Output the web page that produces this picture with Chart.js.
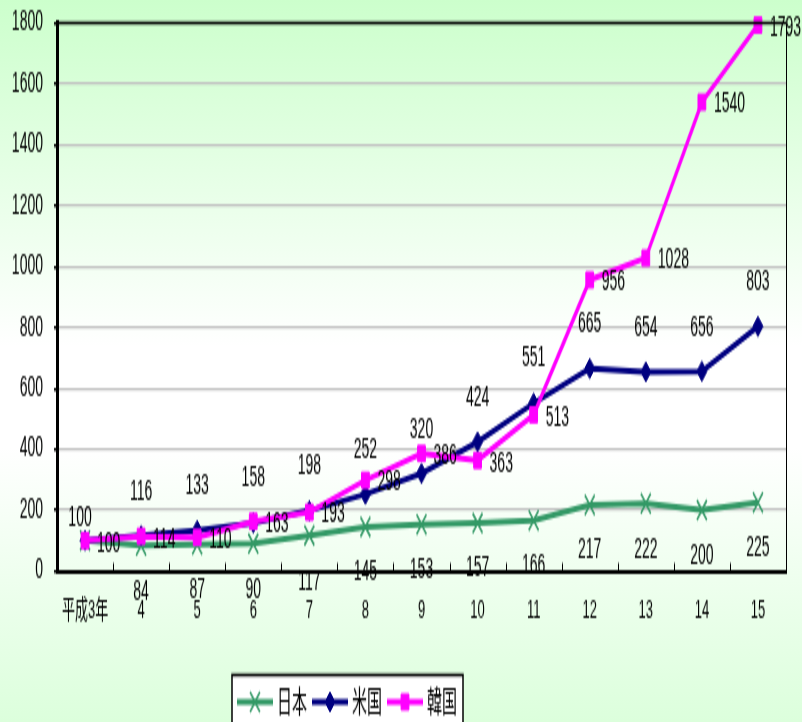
<!DOCTYPE html>
<html lang="ja">
<head>
<meta charset="utf-8">
<title>日本・米国・韓国の推移</title>
<script src="https://cdn.jsdelivr.net/npm/chart.js@4/dist/chart.umd.min.js"></script>
<style>
  html, body { margin: 0; padding: 0; }
  body {
    width: 802px; height: 722px; overflow: hidden;
    background: linear-gradient(to bottom, #ccffcc 0%, #ffffff 48%, #ffffff 62%, #dcffdc 100%);
  }
  #chart { display: block; }
</style>
</head>
<body>
<!-- drawn at half height, stretched to full height by the inline size -->
<canvas id="chart" width="802" height="361" style="width:802px;height:722px"></canvas>
<script>
// x-axis categories (fiscal years)
const years = ['平成3年', '4', '5', '6', '7', '8', '9', '10', '11', '12', '13', '14', '15'];

// index values, 平成3年 = 100
const japan = [100, 84, 87, 90, 117, 145, 153, 157, 166, 217, 222, 200, 225];
const usa   = [100, 116, 133, 158, 198, 252, 320, 424, 551, 665, 654, 656, 803];
const korea = [100, 114, 110, 163, 193, 298, 386, 363, 513, 956, 1028, 1540, 1793];

const seriesNames = ['日本', '米国', '韓国'];
const yTicks = { min: 0, max: 1800, step: 200 };

const FONT = "'Liberation Sans', Arial, 'Noto Sans CJK JP', sans-serif";
const colors = ['#339966', '#000080', '#ff00ff'];

// where each series puts its value labels: below / above / right of the point
const labelPlacement = [
  { dx: 0, dy: 23, align: 'center' },
  { dx: 0, dy: -22, align: 'center' },
  { dx: 12, dy: 1.5, align: 'left' }
];

const valueLabels = {
  id: 'valueLabels',
  afterDatasetsDraw(chart) {
    const ctx = chart.ctx;
    ctx.save();
    ctx.font = '14px ' + FONT;
    ctx.fillStyle = '#000';
    ctx.textBaseline = 'middle';
    chart.data.datasets.forEach((ds, di) => {
      const meta = chart.getDatasetMeta(di);
      const p = labelPlacement[di];
      meta.data.forEach((pt, i) => {
        let dx = p.dx, dy = p.dy;
        if (i === 0 && di === 0) return;          // 日本 first label sits under the others
        if (i === 0 && di === 1) { dx = -5; dy = -11; }
        ctx.textAlign = p.align;
        ctx.fillText(String(ds.data[i]), pt.x + dx, pt.y + dy);
      });
    });
    ctx.restore();
  }
};

const frameAndLegend = {
  id: 'frameAndLegend',
  afterDraw(chart) {
    const ctx = chart.ctx;
    const a = chart.chartArea;
    ctx.save();

    // category separators rising from the x axis
    ctx.strokeStyle = '#000';
    ctx.lineWidth = 1;
    const w = (a.right - a.left) / years.length;
    for (let i = 1; i < years.length; i++) {
      const x = Math.round(a.left + i * w) + 0.5;
      ctx.beginPath();
      ctx.moveTo(x, a.bottom);
      ctx.lineTo(x, a.bottom - 4);
      ctx.stroke();
    }

    // top edge and thin right edge of the plot
    ctx.lineWidth = 1.5;
    ctx.beginPath();
    ctx.moveTo(a.left, a.top);
    ctx.lineTo(a.right, a.top);
    ctx.stroke();
    ctx.lineWidth = 1;
    ctx.beginPath();
    ctx.moveTo(a.right + 0.5, a.top);
    ctx.lineTo(a.right + 0.5, a.bottom);
    ctx.stroke();

    // legend box
    const bx = 232, by = 337.5, bw = 231, bh = 40;
    ctx.fillStyle = '#fff';
    ctx.fillRect(bx, by, bw, bh);
    ctx.lineWidth = 1.5;
    ctx.strokeStyle = '#000';
    ctx.strokeRect(bx, by, bw, bh);

    const ly = 351;
    chart.data.datasets.forEach((ds, i) => {
      const x0 = 237 + i * 75;
      ctx.strokeStyle = ds.borderColor;
      ctx.lineWidth = 3;
      ctx.beginPath();
      ctx.moveTo(x0, ly);
      ctx.lineTo(x0 + 36, ly);
      ctx.stroke();
      ctx.fillStyle = ds.pointBackgroundColor;
      ctx.strokeStyle = ds.pointBorderColor;
      ctx.lineWidth = ds.pointBorderWidth;
      Chart.helpers.drawPoint(ctx, {
        pointStyle: ds.pointStyle,
        radius: ds.pointRadius,
        borderWidth: ds.pointBorderWidth,
        rotation: 0
      }, x0 + 18, ly);
      ctx.fillStyle = '#000';
      ctx.font = '15px ' + FONT;
      ctx.textAlign = 'left';
      ctx.textBaseline = 'middle';
      ctx.fillText(ds.label, x0 + 40, ly + 1);
    });
    ctx.restore();
  }
};

new Chart(document.getElementById('chart'), {
  type: 'line',
  data: {
    labels: years,
    datasets: [
      {
        label: seriesNames[0], data: japan, order: 2,
        borderColor: colors[0], borderWidth: 3,
        pointStyle: 'crossRot', pointRadius: 7, pointBorderWidth: 1.5,
        pointBorderColor: colors[0], pointBackgroundColor: colors[0]
      },
      {
        label: seriesNames[1], data: usa, order: 1,
        borderColor: colors[1], borderWidth: 3,
        pointStyle: 'rectRot', pointRadius: 5, pointBorderWidth: 1,
        pointBorderColor: colors[1], pointBackgroundColor: colors[1]
      },
      {
        label: seriesNames[2], data: korea, order: 0,
        borderColor: colors[2], borderWidth: 3,
        pointStyle: 'rect', pointRadius: 5.5, pointBorderWidth: 1,
        pointBorderColor: colors[2], pointBackgroundColor: colors[2]
      }
    ]
  },
  options: {
    responsive: false,
    devicePixelRatio: 1,
    animation: false,
    clip: false,
    layout: { padding: { top: 11.5, right: 16, left: 0, bottom: 0 } },
    plugins: {
      legend: { display: false },
      tooltip: { enabled: false }
    },
    elements: { line: { tension: 0 } },
    scales: {
      x: {
        offset: true,
        grid: { display: false, drawTicks: false, offset: true },
        border: { display: true, color: '#000', width: 2 },
        ticks: {
          color: '#000', padding: 12, maxRotation: 0, autoSkip: false,
          font: { family: FONT, size: 13 }
        },
        afterFit(scale) { scale.height = 75.5; }
      },
      y: {
        min: yTicks.min, max: yTicks.max,
        grid: {
          color: c => (c.tick && (c.tick.value === yTicks.min || c.tick.value === yTicks.max)) ? 'rgba(0,0,0,0)' : '#c0c0c0',
          lineWidth: 1.25,
          drawTicks: true, tickLength: 3, tickColor: '#000', tickWidth: 1.5
        },
        border: { display: true, color: '#000', width: 3 },
        ticks: {
          stepSize: yTicks.step, color: '#000', padding: 11,
          font: { family: FONT, size: 14 },
          callback: v => String(v)
        },
        afterFit(scale) {
          scale.width = 57;
          // top label may overhang; keep the plot top where the padding puts it
          scale.paddingTop = 0;
          scale.paddingBottom = 0;
        }
      }
    }
  },
  plugins: [valueLabels, frameAndLegend]
});
</script>
</body>
</html>
